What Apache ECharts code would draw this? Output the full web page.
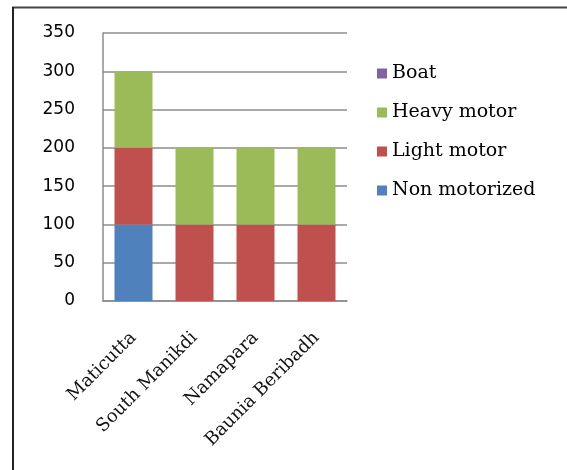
<!DOCTYPE html>
<html>
<head>
<meta charset="utf-8">
<script src="https://cdn.jsdelivr.net/npm/echarts@6/dist/echarts.min.js"></script>
<style>
  html, body { margin: 0; padding: 0; background: #fff; }
  #chart { width: 567px; height: 470px; }
</style>
</head>
<body>
<div id="chart"></div>
<script>
// Villages and vehicle counts per type (stacked)
const categories = ['Maticutta', 'South Manikdi', 'Namapara', 'Baunia Beribadh'];
const nonMotorized = [100, 0, 0, 0];
const lightMotor = [100, 100, 100, 100];
const heavyMotor = [100, 100, 100, 100];
const boat = [0, 0, 0, 0];
const yTicks = { min: 0, max: 350, interval: 50 };

const serif = '"DejaVu Serif", "Liberation Serif", serif';
const sans = '"DejaVu Sans", Tahoma, sans-serif';

function bar(name, data, color) {
  return {
    name: name,
    type: 'bar',
    stack: 'total',
    data: data,
    barWidth: 38,
    itemStyle: { color: color },
    emphasis: { disabled: true }
  };
}

const chart = echarts.init(document.getElementById('chart'));
chart.setOption({
  animation: false,
  backgroundColor: '#fff',
  grid: { left: 103, right: 220, top: 33, bottom: 169, containLabel: false },
  legend: {
    orient: 'vertical',
    left: 377,
    top: 64,
    padding: 0,
    itemWidth: 10,
    itemHeight: 10,
    itemGap: 20,
    icon: 'rect',
    textStyle: { fontFamily: serif, fontSize: 19, color: '#000', padding: [0, 0, 0, 0] },
    data: ['Boat', 'Heavy motor', 'Light motor', 'Non motorized']
  },
  xAxis: {
    type: 'category',
    data: categories,
    axisLine: { show: true, lineStyle: { color: '#8c8c8c', width: 1.5 } },
    axisTick: { show: false },
    axisLabel: {
      rotate: 45,
      margin: 34,
      interval: 0,
      fontFamily: serif,
      fontSize: 18,
      color: '#111'
    }
  },
  yAxis: {
    type: 'value',
    min: yTicks.min,
    max: yTicks.max,
    interval: yTicks.interval,
    axisLine: { show: true, lineStyle: { color: '#8c8c8c', width: 1.5 } },
    axisTick: { show: false },
    splitLine: { show: true, lineStyle: { color: '#8c8c8c', width: 1.5 } },
    axisLabel: { margin: 28, fontFamily: sans, fontSize: 17, color: '#000' }
  },
  series: [
    bar('Non motorized', nonMotorized, '#4F81BD'),
    bar('Light motor', lightMotor, '#C0504D'),
    bar('Heavy motor', heavyMotor, '#9BBB59'),
    bar('Boat', boat, '#8064A2')
  ],
  graphic: [
    { type: 'line', shape: { x1: 12, y1: 7.5, x2: 567, y2: 7.5 }, style: { stroke: '#444', lineWidth: 2 } },
    { type: 'line', shape: { x1: 13, y1: 7, x2: 13, y2: 470 }, style: { stroke: '#222', lineWidth: 2 } }
  ]
});
</script>
</body>
</html>
